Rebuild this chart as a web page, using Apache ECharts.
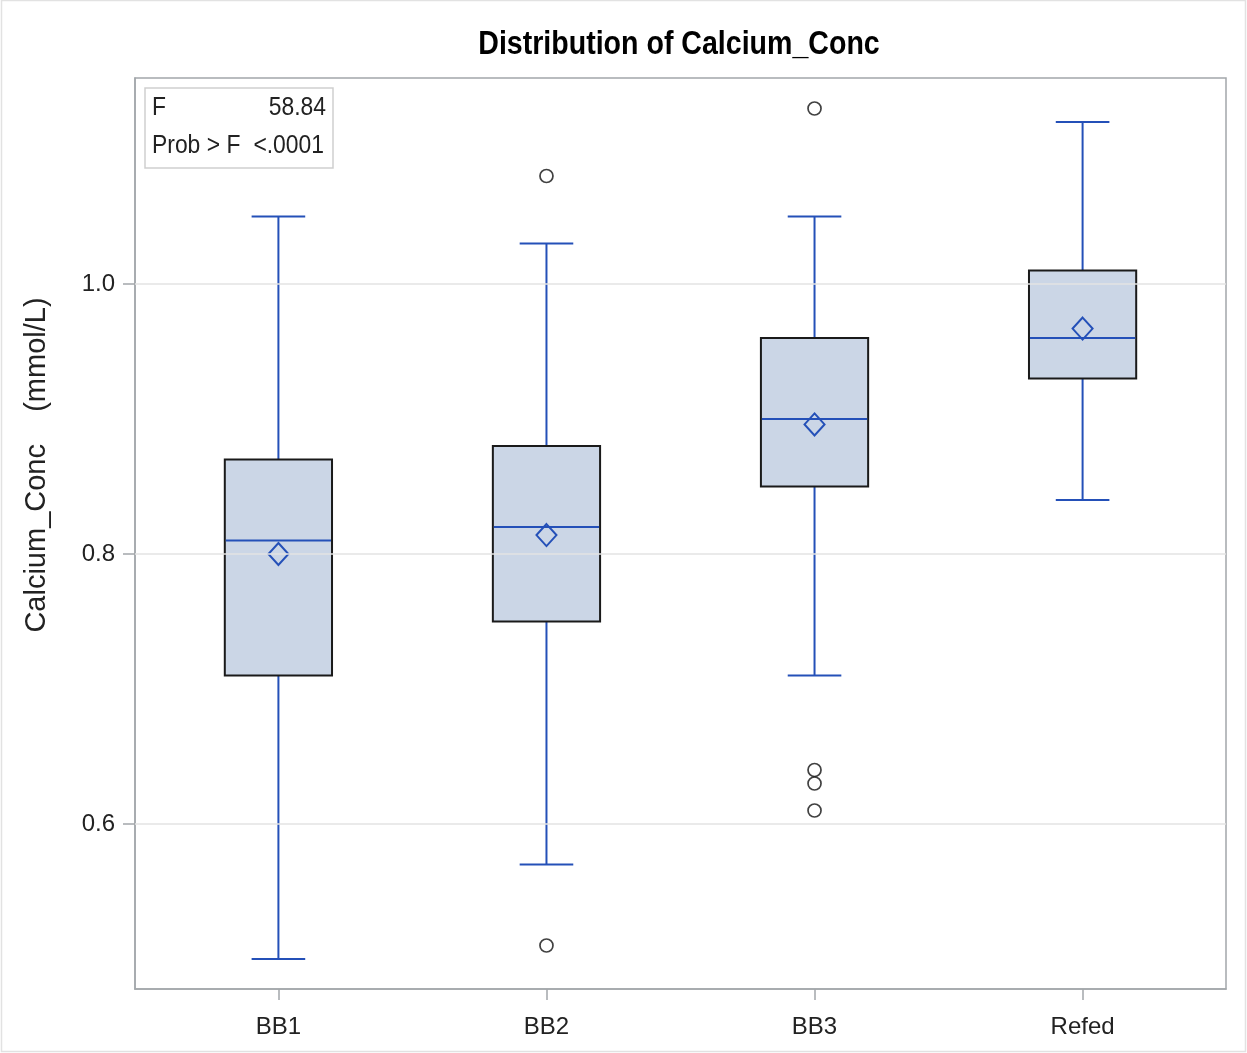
<!DOCTYPE html>
<html>
<head>
<meta charset="utf-8">
<script src="https://cdn.jsdelivr.net/npm/echarts@6/dist/echarts.min.js"></script>
<style>
html,body{margin:0;padding:0;background:#fff;}
#chart{width:1247px;height:1053px;}
</style>
</head>
<body>
<div id="chart"></div>
<script>
const categories = ['BB1', 'BB2', 'BB3', 'Refed'];
const whiskerLow = [0.50, 0.57, 0.71, 0.84];
const q1 = [0.71, 0.75, 0.85, 0.93];
const median = [0.81, 0.82, 0.90, 0.96];
const q3 = [0.87, 0.88, 0.96, 1.01];
const whiskerHigh = [1.05, 1.03, 1.05, 1.12];
const means = [0.80, 0.814, 0.896, 0.967];
const outliers = [[1, 1.08], [1, 0.51], [2, 1.13], [2, 0.64], [2, 0.63], [2, 0.61]];
const yTicks = [0.6, 0.8, 1.0];
const xTicks = [0, 1, 2, 3];
const statLabels = ['F', 'Prob > F'];
const statValues = ['58.84', '<.0001'];

const boxData = categories.map((c, i) => [i, whiskerLow[i], q1[i], median[i], q3[i], whiskerHigh[i], means[i]]);

const BLUE = '#2450b8';
const FONT = '"Liberation Sans Narrow", "Liberation Sans", Arial, sans-serif';
const AXISC = '#a3a7ab';

const chart = echarts.init(document.getElementById('chart'), null, {renderer: 'canvas'});

function renderBox(params, api) {
  const x = api.value(0);
  const lo = api.coord([x, api.value(1)]);
  const b1 = api.coord([x, api.value(2)]);
  const md = api.coord([x, api.value(3)]);
  const b3 = api.coord([x, api.value(4)]);
  const hi = api.coord([x, api.value(5)]);
  const mn = api.coord([x, api.value(6)]);
  const boxW = api.size([0.4, 0])[0];
  const capW = api.size([0.2, 0])[0];
  const cx = lo[0];
  const lineStyle = {stroke: BLUE, lineWidth: 2};
  const dw = 10, dh = 11;
  return {
    type: 'group',
    children: [
      {type: 'line', shape: {x1: cx, y1: hi[1], x2: cx, y2: b3[1]}, style: lineStyle},
      {type: 'line', shape: {x1: cx, y1: b1[1], x2: cx, y2: lo[1]}, style: lineStyle},
      {type: 'line', shape: {x1: cx - capW / 2, y1: hi[1], x2: cx + capW / 2, y2: hi[1]}, style: lineStyle},
      {type: 'line', shape: {x1: cx - capW / 2, y1: lo[1], x2: cx + capW / 2, y2: lo[1]}, style: lineStyle},
      {type: 'rect', shape: {x: cx - boxW / 2, y: b3[1], width: boxW, height: b1[1] - b3[1]},
        style: {fill: '#cbd6e6', stroke: '#1a1a1a', lineWidth: 2}},
      {type: 'line', shape: {x1: cx - boxW / 2 + 1, y1: md[1], x2: cx + boxW / 2 - 1, y2: md[1]}, style: lineStyle},
      {type: 'polygon', shape: {points: [[cx, mn[1] - dh], [cx + dw, mn[1]], [cx, mn[1] + dh], [cx - dw, mn[1]]]},
        style: {fill: 'rgba(0,0,0,0)', stroke: BLUE, lineWidth: 2}}
    ]
  };
}

const txt = (x, y, text, align) => ({
  type: 'text', x: x, y: y, z: 11, scaleX: 0.88, originX: 0, originY: 0,
  style: {text: text, fontFamily: FONT, fontSize: 26, fill: '#222', align: align, verticalAlign: 'middle'}
});

const option = {
  backgroundColor: '#fff',
  animation: false,
  grid: {left: 135, right: 21, top: 78, bottom: 64, show: true, borderColor: AXISC, borderWidth: 1.5, backgroundColor: 'transparent'},
  xAxis: {
    type: 'value', min: -0.535, max: 3.535,
    axisLine: {show: true, onZero: false, lineStyle: {color: AXISC, width: 1.5}},
    axisTick: {show: true, customValues: xTicks, length: 11, lineStyle: {color: AXISC, width: 1.5}},
    axisLabel: {customValues: xTicks, formatter: v => categories[Math.round(v)] || '', margin: 26,
      fontFamily: FONT, fontSize: 24, color: '#222'},
    splitLine: {show: false}
  },
  yAxis: {
    type: 'value', min: 0.47778, max: 1.15259,
    axisLine: {show: true, onZero: false, lineStyle: {color: AXISC, width: 1.5}},
    axisTick: {show: true, customValues: yTicks, length: 12, lineStyle: {color: AXISC, width: 1.5}},
    axisLabel: {customValues: yTicks, formatter: v => v.toFixed(1), margin: 20,
      fontFamily: FONT, fontSize: 24, color: '#222'},
    splitLine: {show: false}
  },
  graphic: [
    {type: 'rect', shape: {x: 1.5, y: 0.5, width: 1244, height: 1051}, style: {fill: 'none', stroke: '#e2e2e2', lineWidth: 1.5}, silent: true, z: -1},
    {type: 'text', x: 679, y: 45, scaleX: 0.84, originX: 0, originY: 0,
      style: {text: 'Distribution of Calcium_Conc', fontFamily: FONT, fontSize: 34, fontWeight: 'bold', fill: '#000', align: 'center', verticalAlign: 'middle'}},
    {type: 'text', x: 37, y: 465, rotation: Math.PI / 2, style: {text: 'Calcium_Conc    (mmol/L)', fontFamily: '"Liberation Sans", Arial, sans-serif', fontSize: 29, fill: '#222', align: 'center', verticalAlign: 'middle'}},
    {type: 'rect', shape: {x: 145, y: 88, width: 188, height: 80}, style: {fill: '#fff', stroke: '#cfcfcf', lineWidth: 1.5}, z: 10},
    txt(152, 108, statLabels[0], 'left'),
    txt(326, 108, statValues[0], 'right'),
    txt(152, 146, statLabels[1], 'left'),
    txt(324, 146, statValues[1], 'right')
  ],
  series: [
    {
      type: 'custom', name: 'box', renderItem: renderBox, data: boxData,
      encode: {x: 0, y: [1, 2, 3, 4, 5, 6]}, z: 3,
      markLine: {
        silent: true, symbol: ['none', 'none'], label: {show: false},
        lineStyle: {color: '#e3e3e3', width: 1.5, type: 'solid'},
        data: yTicks.map(v => ({yAxis: v}))
      }
    },
    {
      type: 'scatter', name: 'outliers', data: outliers, symbol: 'circle', symbolSize: 13, z: 4,
      itemStyle: {color: 'rgba(0,0,0,0)', borderColor: '#111', borderWidth: 1.7}
    }
  ]
};
chart.setOption(option);
</script>
</body>
</html>
